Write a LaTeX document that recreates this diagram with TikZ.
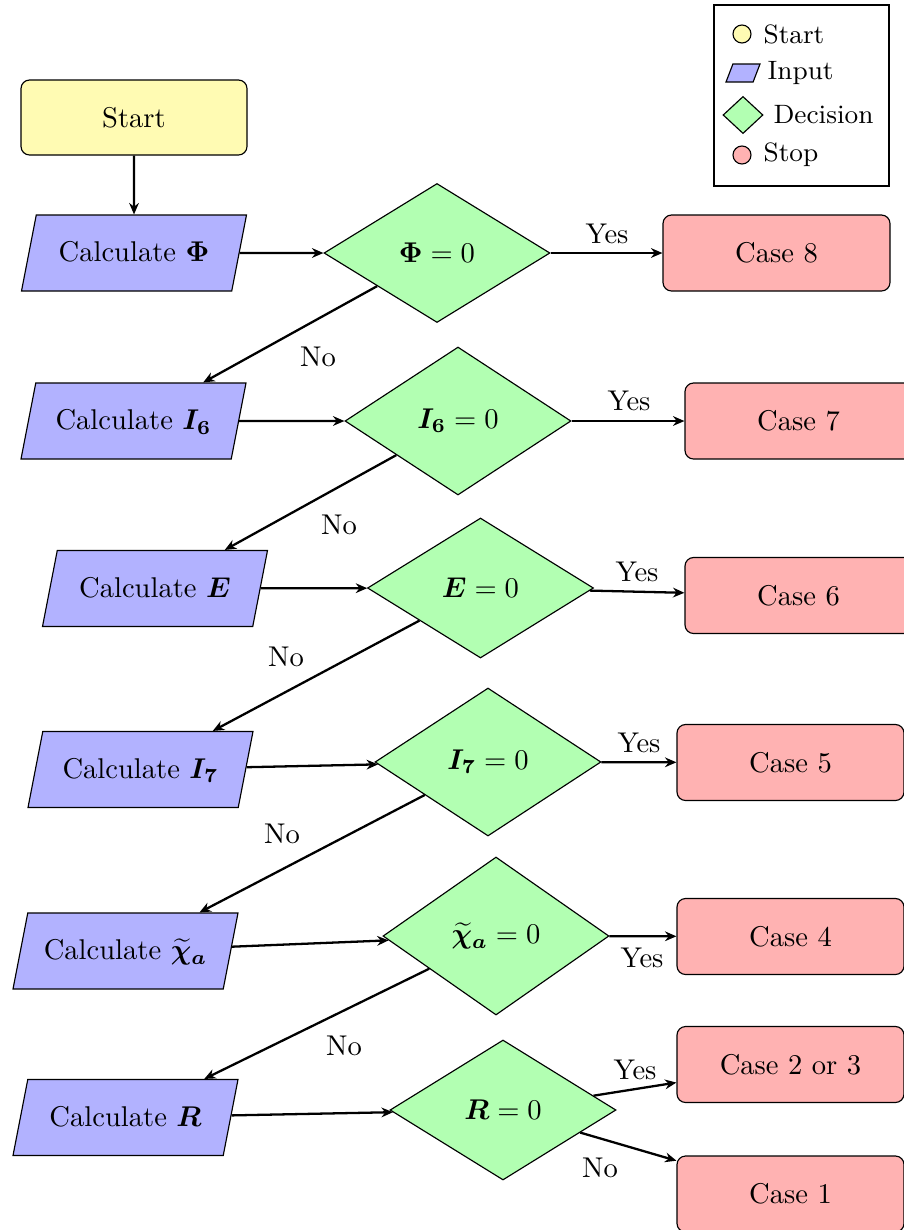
\documentclass[tikz,border=0pt]{standalone}
\usepackage{amsmath,amssymb}
\usetikzlibrary{shapes.geometric,arrows.meta}
\begin{document}
\begin{tikzpicture}[x=0.35pt,y=-0.35pt,
 base/.style={draw, line width=0.4pt, inner sep=1pt, font=\normalsize},
 startbox/.style={base, rectangle, rounded corners=3pt, fill=yellow!30, minimum width=79.1pt, minimum height=26.25pt},
 inbox/.style={base, trapezium, trapezium left angle=79, trapezium right angle=101, trapezium stretches body, fill=blue!30, minimum width=78.75pt, text height=6.8pt, text depth=0.6pt, inner ysep=9.6pt, inner xsep=1pt},
 decbox/.style={base, diamond, fill=green!30, minimum width=79.1pt, inner sep=0pt},
 stopbox/.style={base, rectangle, rounded corners=3pt, fill=red!30, minimum width=79.45pt, minimum height=26.6pt},
 arr/.style={thick, -{Stealth[length=4pt,width=3.4pt]}},
 lbl/.style={inner sep=0pt},
 legtext/.style={inner sep=0pt, anchor=west, font=\fontsize{9.3}{11}\selectfont}
]
\useasboundingbox (0,0) rectangle (904,1230);

% legend
\node[draw, line width=0.4pt, minimum width=61.25pt, minimum height=63.35pt, inner sep=0pt] (legend) at (801.5,95.5) {};
\node[base, circle, fill=yellow!30, minimum size=6.3pt, inner sep=0pt] (lstart) at (742,34) {};
\node[legtext] (tstart) at (763,34) {Start};
\node[base, trapezium, trapezium left angle=69, trapezium right angle=111, trapezium stretches body, fill=blue!30, minimum width=11.9pt, text height=0pt, text depth=0pt, inner ysep=3.15pt, inner xsep=0pt] (linput) at (743,73) {};
\node[legtext] (tinput) at (767,73) {Input};
\node[base, diamond, fill=green!30, minimum width=14pt, minimum height=13pt, inner sep=0pt] (ldec) at (743,115) {};
\node[legtext] (tdec) at (773,115) {Decision};
\node[base, circle, fill=red!30, minimum size=6.3pt, inner sep=0pt] (lstop) at (742,155) {};
\node[legtext] (tstop) at (763,155) {Stop};

% row 0
\node[startbox] (start) at (134,117.5) {Start};
% row 1
\node[inbox] (p1) at (134,253) {Calculate $\boldsymbol{\Phi}$};
\node[decbox, minimum height=48.65pt] (d1) at (437,253) {$\boldsymbol{\Phi}=0$};
\node[stopbox] (c8) at (776.5,253) {Case 8};
% row 2
\node[inbox] (p2) at (133.5,421) {Calculate $\boldsymbol{I_6}$};
\node[decbox, minimum height=51.8pt] (d2) at (458,421) {$\boldsymbol{I_6}=0$};
\node[stopbox] (c7) at (798.5,421) {Case 7};
% row 3
\node[inbox] (p3) at (155,588.5) {Calculate $\boldsymbol{E}$};
\node[decbox, minimum height=49pt] (d3) at (480.5,588) {$\boldsymbol{E}=0$};
\node[stopbox] (c6) at (798.5,595.5) {Case 6};
% row 4
\node[inbox] (p4) at (140.5,769.5) {Calculate $\boldsymbol{I_7}$};
\node[decbox, minimum height=51.8pt] (d4) at (488,762) {$\boldsymbol{I_7}=0$};
\node[stopbox] (c5) at (790.5,762.5) {Case 5};
% row 5
\node[inbox] (p5) at (125.5,951) {Calculate $\boldsymbol{\widetilde{\chi}_a}$};
\node[decbox, minimum height=55.3pt] (d5) at (496,936) {$\boldsymbol{\widetilde{\chi}_a}=0$};
\node[stopbox] (c4) at (790.5,936.5) {Case 4};
% row 6
\node[inbox] (p6) at (125.5,1117.5) {Calculate $\boldsymbol{R}$};
\node[decbox, minimum height=49pt] (d6) at (503,1110) {$\boldsymbol{R}=0$};
\node[stopbox] (c23) at (790.5,1064.5) {Case 2 or 3};
\node[stopbox] (c1) at (790.5,1194) {Case 1};

% connectors
\draw[arr] (start) -- (p1);
\draw[arr] (p1) -- (d1);
\draw[arr] (d1) -- (c8);
\draw[arr] (d1) -- (p2);
\draw[arr] (p2) -- (d2);
\draw[arr] (d2) -- (c7);
\draw[arr] (d2) -- (p3);
\draw[arr] (p3) -- (d3);
\draw[arr] (d3) -- (c6);
\draw[arr] (d3) -- (p4);
\draw[arr] (p4) -- (d4);
\draw[arr] (d4) -- (c5);
\draw[arr] (d4) -- (p5);
\draw[arr] (p5) -- (d5);
\draw[arr] (d5) -- (c4);
\draw[arr] (d5) -- (p6);
\draw[arr] (p6) -- (d6);
\draw[arr] (d6) -- (c23);
\draw[arr] (d6) -- (c1);

% labels
\node[lbl] (y1) at (607,234) {Yes};
\node[lbl] (n1) at (318,357) {No};
\node[lbl] (y2) at (629,401) {Yes};
\node[lbl] (n2) at (339,525) {No};
\node[lbl] (y3) at (637,572) {Yes};
\node[lbl] (n3) at (286,657) {No};
\node[lbl] (y4) at (639,743) {Yes};
\node[lbl] (n4) at (282,834) {No};
\node[lbl] (y5) at (642,958) {Yes};
\node[lbl] (n5) at (344,1046) {No};
\node[lbl] (y6) at (635,1070) {Yes};
\node[lbl] (n6) at (600,1168) {No};
\end{tikzpicture}
\end{document}
